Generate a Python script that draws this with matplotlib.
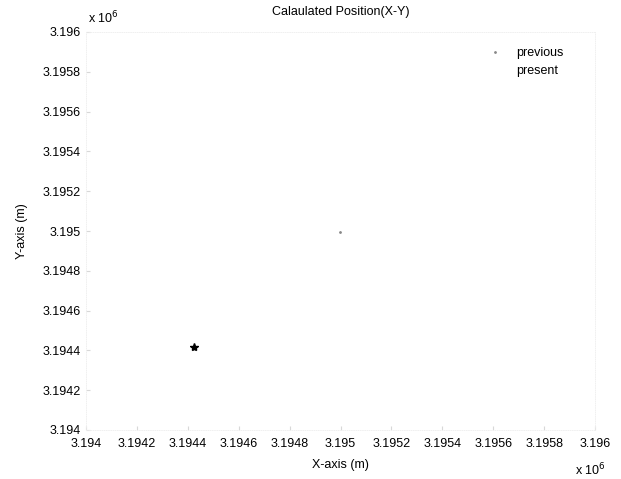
import matplotlib
matplotlib.use("Agg")
import matplotlib.pyplot as plt

plt.rcParams["font.family"] = ["Liberation Sans", "DejaVu Sans"]

# data (metres)
prev_x = [3.194998e6]
prev_y = [3.194995e6]
pres_x = [3.194424e6]
pres_y = [3.194417e6]

ticks = [3.194e6 + i * 0.0002e6 for i in range(11)]
tick_labels = ["3.194", "3.1942", "3.1944", "3.1946", "3.1948", "3.195",
               "3.1952", "3.1954", "3.1956", "3.1958", "3.196"]

fig = plt.figure(figsize=(6.21, 4.79), dpi=100)
ax = fig.add_axes([86 / 621, 1 - 430 / 479, 509 / 621, 398 / 479])

ax.plot(prev_x, prev_y, linestyle="none", marker=".", markersize=2,
        color="#888888", label="previous")
ax.plot(pres_x, pres_y, linestyle="none", marker="*", markersize=6,
        color="black", label="present")

ax.set_xlim(3.194e6, 3.196e6)
ax.set_ylim(3.194e6, 3.196e6)
ax.set_xticks(ticks)
ax.set_yticks(ticks)
ax.set_xticklabels(tick_labels, fontsize=9)
ax.set_yticklabels(tick_labels, fontsize=9)
ax.tick_params(axis="x", direction="in", length=3, color="#d8d8d8", pad=6)
ax.tick_params(axis="y", direction="in", length=3, color="#d8d8d8", pad=4)

for sp in ax.spines.values():
    sp.set_color("#eeeeee")
    sp.set_linestyle(":")
    sp.set_linewidth(0.6)

ax.set_title("Calaulated Position(X-Y)", fontsize=9, pad=12)
ax.set_xlabel("X-axis (m)", fontsize=9, labelpad=6)
ax.set_ylabel("Y-axis (m)", fontsize=9, labelpad=10)

fig.text(88 / 621, 1 - 18 / 479, r"x 10$^6$", fontsize=9, va="center")
fig.text(575 / 621, 1 - 470 / 479, r"x 10$^6$", fontsize=9, va="center")

leg = ax.legend(loc="upper right", bbox_to_anchor=(0.96, 0.99), frameon=False,
                fontsize=9, handlelength=1.5, handletextpad=0.9,
                labelspacing=0.45)
leg.legend_handles[1].set_visible(False)

fig.savefig("out.png", dpi=100)
